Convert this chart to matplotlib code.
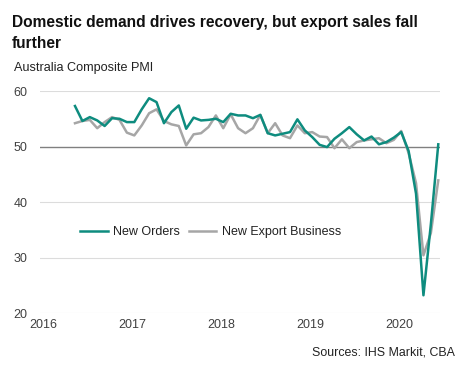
"""Australia Composite PMI: new orders vs new export business, May 2016 - Jun 2020."""

import matplotlib

matplotlib.use("Agg")

import matplotlib.pyplot as plt  # noqa: E402
import pandas as pd  # noqa: E402

plt.rcParams["font.family"] = ["Liberation Sans", "DejaVu Sans"]

# monthly readings
months = pd.date_range("2016-05-01", "2020-06-01", freq="MS")

new_orders = [
    57.3, 54.6, 55.3, 54.7, 53.7, 55.1, 55.0, 54.4,              # 2016
    54.4, 56.7, 58.7, 58.0, 54.2, 56.2, 57.4, 53.2, 55.2, 54.7, 54.8, 55.0,  # 2017
    54.4, 55.9, 55.6, 55.6, 55.1, 55.7, 52.4, 52.0, 52.3, 52.6, 54.9, 52.9,  # 2018
    51.7, 50.3, 49.9, 51.4, 52.4, 53.5, 52.2, 51.1, 51.8, 50.4, 50.8, 51.6,  # 2019
    52.6, 49.2, 41.5, 23.2, 36.0, 50.4,                          # 2020
]
new_export = [
    54.2, 54.6, 54.8, 53.3, 54.4, 55.3, 54.8, 52.5,
    52.0, 53.8, 56.0, 56.7, 54.6, 54.0, 53.7, 50.2, 52.2, 52.4, 53.5, 55.6,
    53.3, 55.8, 53.3, 52.4, 53.3, 55.7, 52.4, 54.2, 52.0, 51.5, 53.8, 52.4,
    52.6, 51.8, 51.7, 49.7, 51.3, 49.7, 50.8, 51.1, 51.3, 51.5, 50.6, 51.2,
    52.8, 48.8, 43.4, 30.4, 34.4, 43.9,
]

years = [2016, 2017, 2018, 2019, 2020]
y_ticks = [20, 30, 40, 50, 60]

GREEN = "#0E8C7F"
GREY = "#A6A6A6"
TEXT = "#404040"

# decimal-year position of each month (a touch past the 1st, as in the source)
x = [d.year + (d.month - 1) / 12 + 0.025 for d in months]

fig = plt.figure(figsize=(4.66, 3.67), dpi=100)
ax = fig.add_axes([0.086, 0.147, 0.858, 0.605])

for v in y_ticks:
    if v == 50:
        ax.axhline(v, color="#808080", linewidth=1.0, zorder=1)
    else:
        ax.axhline(v, color="#DCDCDC", linewidth=0.8, zorder=1)

ax.plot(x, new_orders, color=GREEN, linewidth=1.8, label="New Orders", zorder=3)
ax.plot(x, new_export, color=GREY, linewidth=1.8, label="New Export Business",
        zorder=2)

ax.set_xlim(2015.966, 2020.46)
ax.set_ylim(20, 60)
ax.set_xticks(years)
ax.set_xticklabels([str(y) for y in years])
ax.set_yticks(y_ticks)
ax.tick_params(axis="both", length=0, labelsize=9, colors=TEXT)
ax.tick_params(axis="y", pad=9)
ax.tick_params(axis="x", pad=4)
for side in ax.spines.values():
    side.set_visible(False)

ax.legend(loc="center left", bbox_to_anchor=(0.1, 0.365), ncol=2, frameon=False,
          fontsize=9, handlelength=2.2, handletextpad=0.45, columnspacing=0.7,
          borderpad=0, borderaxespad=0, labelcolor="#222222")

fig.text(0.026, 0.958, "Domestic demand drives recovery, but export sales fall\nfurther",
         fontsize=11.2, fontweight="bold", va="top", ha="left", linespacing=1.45,
         color="#111111")
fig.text(0.031, 0.815, "Australia Composite PMI", fontsize=9.1, color="#222222",
         va="center", ha="left")
fig.text(0.977, 0.04, "Sources: IHS Markit, CBA", fontsize=8.9, color="#222222",
         va="center", ha="right")

fig.savefig("out.png", dpi=100)
